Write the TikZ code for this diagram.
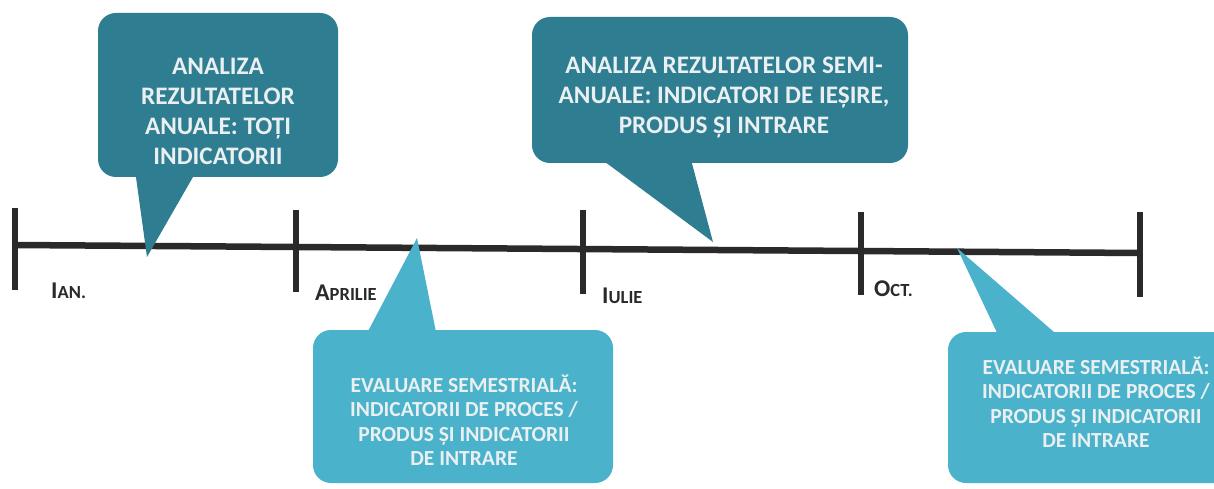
\documentclass[tikz,border=0pt]{standalone}
\usepackage{fontspec}
\setmainfont{Carlito}
\definecolor{darkteal}{HTML}{2E7D91}
\definecolor{lightteal}{HTML}{4AB2CB}
\definecolor{calltext}{HTML}{EAF0F2}
\definecolor{axiscol}{HTML}{2A2A2A}
\newcommand\monthlbl[2]{{\fontsize{24}{24}\selectfont #1}{\fontsize{18.5}{18.5}\selectfont #2}}
\begin{document}
\begin{tikzpicture}[x=1pt,y=-1pt,
  callbox/.style={rectangle, rounded corners=18pt, inner sep=0pt, draw=none},
  bigtxt/.style={align=center, text=calltext, inner sep=0pt,
    font=\fontsize{25.2}{30}\selectfont\bfseries},
  smalltxt/.style={align=center, text=calltext, inner sep=0pt,
    font=\fontsize{21.5}{24.5}\selectfont\bfseries},
  axisline/.style={draw=axiscol, line width=6.5pt},
  tickline/.style={draw=axiscol, line width=6.5pt},
  monthtxt/.style={anchor=base west, inner sep=0pt, text=axiscol, font=\bfseries}]
\clip (0,0) rectangle (1214,489);
\fill[white] (0,0) rectangle (1214,489);

% timeline
\coordinate (L) at (15,245);
\coordinate (R) at (1140,253);
\draw[axisline] (L) -- (R);
\coordinate (t1a) at (15,208);   \coordinate (t1b) at (15,290);
\coordinate (t2a) at (296,210);  \coordinate (t2b) at (296,292);
\coordinate (t3a) at (583,210);  \coordinate (t3b) at (583,294);
\coordinate (t4a) at (861,212);  \coordinate (t4b) at (861,295);
\coordinate (t5a) at (1140,212); \coordinate (t5b) at (1140,297);
\draw[tickline] (t1a) -- (t1b);
\draw[tickline] (t2a) -- (t2b);
\draw[tickline] (t3a) -- (t3b);
\draw[tickline] (t4a) -- (t4b);
\draw[tickline] (t5a) -- (t5b);

% month labels
\node[monthtxt] (m1) at (51,298) {\monthlbl{I}{AN.}};
\node[monthtxt] (m2) at (315,300) {\monthlbl{A}{PRILIE}};
\node[monthtxt] (m3) at (602,303) {\monthlbl{I}{ULIE}};
\node[monthtxt] (m4) at (874,296) {\monthlbl{O}{CT.}};

% callout 1
\node[callbox, fill=darkteal, minimum width=240pt, minimum height=164pt] (c1) at (218,95) {};
\coordinate (c1tip) at (147,257);
\fill[darkteal] (135,170) -- (c1tip) -- (197,170) -- cycle;
\node[bigtxt] (c1t) at (218,111) {ANALIZA\\REZULTATELOR\\ANUALE: TOȚI\\INDICATORII};

% callout 2
\node[callbox, fill=darkteal, minimum width=376pt, minimum height=146pt] (c2) at (720,90) {};
\coordinate (c2tip) at (713,242);
\fill[darkteal] (597,156) -- (c2tip) -- (690,156) -- cycle;
\node[bigtxt] (c2t) at (724,98) {ANALIZA REZULTATELOR SEMI-\\ANUALE: INDICATORI DE IEȘIRE,\\PRODUS ȘI INTRARE};

% callout 3
\node[callbox, fill=lightteal, minimum width=300pt, minimum height=153pt] (c3) at (463,406.5) {};
\coordinate (c3tip) at (417,238);
\fill[lightteal] (365,337) -- (c3tip) -- (437,337) -- cycle;
\node[smalltxt] (c3t) at (464,420) {EVALUARE SEMESTRIALĂ:\\INDICATORII DE PROCES /\\PRODUS ȘI INDICATORII\\DE INTRARE};

% callout 4
\node[callbox, fill=lightteal, minimum width=296pt, minimum height=151pt] (c4) at (1096,407.5) {};
\coordinate (c4tip) at (957,248);
\fill[lightteal] (1000,339) -- (c4tip) -- (1062,339) -- cycle;
\node[smalltxt] (c4t) at (1096,402) {EVALUARE SEMESTRIALĂ:\\INDICATORII DE PROCES /\\PRODUS ȘI INDICATORII\\DE INTRARE};
\end{tikzpicture}
\end{document}
